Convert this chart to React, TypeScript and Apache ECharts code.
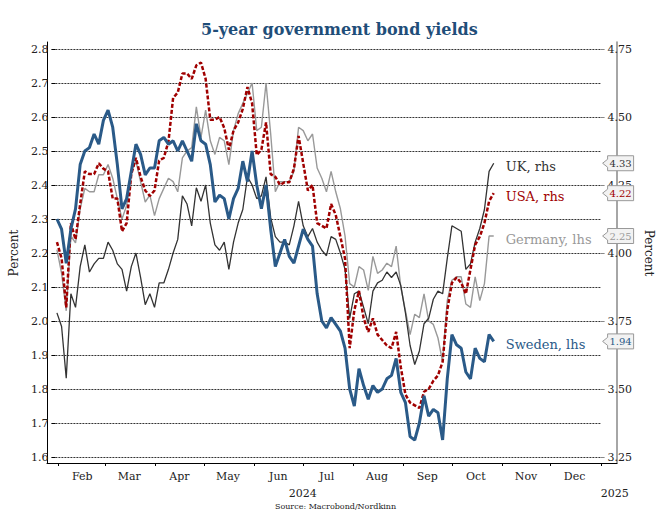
import React, { useEffect, useRef } from "react";
import * as echarts from "echarts";

const dates = [
  "2024-01-26", "2024-01-29", "2024-02-01", "2024-02-04", "2024-02-07", "2024-02-10", "2024-02-13", "2024-02-16", "2024-02-19", "2024-02-22", "2024-02-25", "2024-02-28",
  "2024-03-02", "2024-03-05", "2024-03-08", "2024-03-11", "2024-03-14", "2024-03-17", "2024-03-20", "2024-03-23", "2024-03-26", "2024-03-29",
  "2024-04-01", "2024-04-04", "2024-04-07", "2024-04-10", "2024-04-13", "2024-04-16", "2024-04-19", "2024-04-22", "2024-04-25", "2024-04-28",
  "2024-05-01", "2024-05-04", "2024-05-07", "2024-05-10", "2024-05-13", "2024-05-16", "2024-05-19", "2024-05-22", "2024-05-25", "2024-05-28", "2024-05-31",
  "2024-06-03", "2024-06-06", "2024-06-09", "2024-06-12", "2024-06-15", "2024-06-18", "2024-06-21", "2024-06-24", "2024-06-27", "2024-06-30",
  "2024-07-03", "2024-07-06", "2024-07-09", "2024-07-12", "2024-07-15", "2024-07-18", "2024-07-21", "2024-07-24", "2024-07-27", "2024-07-30",
  "2024-08-02", "2024-08-05", "2024-08-08", "2024-08-11", "2024-08-14", "2024-08-17", "2024-08-20", "2024-08-23", "2024-08-26", "2024-08-29",
  "2024-09-01", "2024-09-04", "2024-09-07", "2024-09-10", "2024-09-13", "2024-09-16", "2024-09-19", "2024-09-22", "2024-09-25", "2024-09-28",
  "2024-10-01", "2024-10-04", "2024-10-07", "2024-10-10", "2024-10-13", "2024-10-16", "2024-10-19", "2024-10-22", "2024-10-25", "2024-10-28", "2024-10-31",
  "2024-11-03",
];

// left-hand scale (percent)
const sweden = [
  2.30, 2.27, 2.17, 2.27, 2.33, 2.46, 2.50, 2.51, 2.55, 2.52, 2.59, 2.62, 2.57, 2.46, 2.33, 2.36, 2.44, 2.52, 2.49, 2.43, 2.45, 2.45, 2.53, 2.54, 2.52,
  2.53, 2.50, 2.53, 2.50, 2.47, 2.58, 2.53, 2.52, 2.46, 2.35, 2.37, 2.36, 2.30, 2.36, 2.39, 2.47, 2.41, 2.50, 2.40, 2.33, 2.40, 2.27, 2.16,
  2.20, 2.24, 2.19, 2.17, 2.22, 2.27, 2.24, 2.22, 2.08, 2.00, 1.98, 2.01, 1.99, 1.97, 1.92, 1.80, 1.75, 1.86, 1.81, 1.77, 1.81, 1.79, 1.80, 1.83,
  1.84, 1.89, 1.79, 1.76, 1.66, 1.65, 1.70, 1.78, 1.72, 1.74, 1.73, 1.65, 1.83, 1.96, 1.93, 1.92, 1.85, 1.83, 1.92, 1.89, 1.88, 1.96, 1.94,
];
const germany = [
  2.21, 2.14, 2.03, 2.25, 2.23, 2.33, 2.39, 2.38, 2.38, 2.43, 2.43, 2.46, 2.42, 2.36, 2.30, 2.34, 2.44, 2.47, 2.41, 2.35, 2.37, 2.31, 2.36, 2.39, 2.42,
  2.41, 2.38, 2.48, 2.50, 2.51, 2.63, 2.54, 2.62, 2.53, 2.49, 2.54, 2.53, 2.46, 2.56, 2.61, 2.64, 2.67, 2.70, 2.56, 2.57, 2.70, 2.55, 2.38,
  2.41, 2.41, 2.41, 2.44, 2.57, 2.56, 2.53, 2.55, 2.45, 2.42, 2.38, 2.44, 2.38, 2.33, 2.25, 2.11, 2.10, 2.16, 2.15, 2.09, 2.19, 2.14, 2.15, 2.17,
  2.16, 2.22, 2.10, 2.03, 1.96, 2.02, 2.01, 2.08, 2.00, 1.99, 1.95, 1.88, 2.06, 2.12, 2.13, 2.13, 2.05, 2.04, 2.13, 2.06, 2.11, 2.25, 2.25,
];
// right-hand scale (percent)
const uk = [
  3.78, 3.73, 3.54, 3.85, 3.80, 3.95, 4.03, 3.93, 3.96, 3.98, 3.98, 4.04, 4.01, 3.96, 3.94, 3.86, 3.95, 4.00, 3.91, 3.81, 3.85, 3.80, 3.89, 3.89, 3.94,
  4.00, 4.05, 4.21, 4.18, 4.10, 4.24, 4.19, 4.25, 4.11, 4.03, 4.01, 4.04, 3.94, 4.04, 4.11, 4.16, 4.28, 4.25, 4.20, 4.21, 4.28, 4.13, 4.06,
  4.04, 4.04, 4.03, 4.10, 4.19, 4.10, 4.06, 4.09, 4.04, 4.01, 3.99, 4.06, 4.05, 4.00, 3.94, 3.76, 3.85, 3.86, 3.80, 3.74, 3.86, 3.89, 3.90, 3.93,
  3.91, 3.93, 3.88, 3.78, 3.66, 3.59, 3.64, 3.74, 3.76, 3.83, 3.86, 3.85, 3.98, 4.10, 4.09, 4.08, 3.94, 3.96, 4.04, 4.09, 4.16, 4.30, 4.33,
];
const usa = [
  4.04, 3.98, 3.80, 4.11, 4.05, 4.18, 4.30, 4.29, 4.29, 4.33, 4.31, 4.30, 4.20, 4.20, 4.08, 4.11, 4.29, 4.35, 4.28, 4.23, 4.21, 4.23, 4.34, 4.35, 4.41,
  4.57, 4.59, 4.66, 4.66, 4.64, 4.69, 4.70, 4.64, 4.49, 4.49, 4.50, 4.46, 4.38, 4.45, 4.48, 4.53, 4.61, 4.55, 4.36, 4.38, 4.48, 4.29, 4.28,
  4.25, 4.26, 4.26, 4.31, 4.43, 4.33, 4.23, 4.25, 4.11, 4.10, 4.09, 4.18, 4.14, 4.06, 3.98, 3.65, 3.79, 3.86, 3.76, 3.71, 3.76, 3.70, 3.68, 3.66,
  3.65, 3.71, 3.58, 3.48, 3.45, 3.44, 3.43, 3.49, 3.50, 3.53, 3.55, 3.60, 3.79, 3.89, 3.91, 3.89, 3.85, 3.94, 4.03, 4.06, 4.11, 4.19, 4.22,
];

const monthNames = ["", "Feb", "Mar", "Apr", "May", "Jun", "Jul", "Aug", "Sep", "Oct", "Nov", "Dec"];
const axisStart = "2024-01-25";
const axisEnd = "2025-01-11";
const yearLabels = [
  { text: "2024", at: "2024-07-01", align: "center" },
  { text: "2025", at: "2025-01-01", align: "left" },
];

const FONT = "'DejaVu Serif', Georgia, serif";
const C_SWE = "#2A5A88";
const C_UK = "#333333";
const C_GER = "#999999";
const C_USA = "#A00000";
const DAY = 86400000;

export default function App() {
  const ref = useRef<HTMLDivElement>(null);

  useEffect(() => {
    if (!ref.current) return;
    const chart = echarts.init(ref.current, null, { renderer: "svg" });

    const mk = (name: string, arr: number[], yAxisIndex: number, color: string, lineStyle: any, z: number) => ({
      name,
      type: "line",
      xAxisIndex: 1,
      yAxisIndex,
      data: dates.map((d, i) => [d, arr[i]]),
      showSymbol: false,
      symbol: "none",
      z,
      lineStyle: { color, ...lineStyle },
      itemStyle: { color },
      endLabel: {
        show: true,
        formatter: "{a}",
        color,
        fontFamily: FONT,
        fontSize: 13,
        distance: 12,
        offset: [0, 3],
      },
    });

    const xBase = {
      type: "time",
      min: axisStart,
      max: axisEnd,
      minInterval: 28 * DAY,
      maxInterval: 31 * DAY,
    };

    chart.setOption({
      animation: false,
      title: {
        text: "5-year government bond yields",
        left: 196,
        top: 16,
        textStyle: { fontFamily: FONT, fontSize: 16, fontWeight: "bold", color: "#1F4E79" },
      },
      grid: [
        { left: 47, right: 46, top: 42, bottom: 48 },
        { left: 47, right: 46, top: 49, bottom: 54 },
      ],
      xAxis: [
        {
          ...xBase,
          gridIndex: 0,
          axisLine: { show: true, lineStyle: { color: "#000", width: 1 } },
          axisTick: { show: true, length: 3, lineStyle: { color: "#000" } },
          splitLine: { show: false },
          axisLabel: {
            formatter: (v: number) => monthNames[new Date(v).getMonth()],
            fontFamily: FONT,
            fontSize: 11,
            color: "#222",
            margin: 8,
            padding: [0, 0, 0, 48],
          },
        },
        {
          ...xBase,
          gridIndex: 1,
          axisLine: { show: false },
          axisTick: { show: false },
          axisLabel: { show: false },
          splitLine: { show: false },
        },
      ],
      yAxis: [
        {
          type: "value", gridIndex: 0, min: 0, max: 1,
          axisLine: { show: true, lineStyle: { color: "#000", width: 1 } },
          axisTick: { show: false }, axisLabel: { show: false }, splitLine: { show: false },
        },
        {
          type: "value", gridIndex: 0, min: 0, max: 1, position: "right",
          axisLine: { show: true, lineStyle: { color: "#888", width: 1.5 } },
          axisTick: { show: false }, axisLabel: { show: false }, splitLine: { show: false },
        },
        {
          type: "value", gridIndex: 1, min: 1.6, max: 2.8, interval: 0.1,
          axisLine: { show: false },
          axisTick: { show: true, length: 4, lineStyle: { color: "#000" } },
          axisLabel: {
            formatter: (v: number) => v.toFixed(1),
            fontFamily: FONT, fontSize: 11, color: "#222", margin: 7,
          },
          splitLine: { show: true, lineStyle: { type: [2, 1], color: "#333", width: 1 } },
          name: "Percent",
          nameLocation: "middle",
          nameGap: 29,
          nameTextStyle: { fontFamily: FONT, fontSize: 12, color: "#222" },
        },
        {
          type: "value", gridIndex: 1, min: 3.25, max: 4.75, interval: 0.25, position: "right",
          axisLine: { show: false },
          axisTick: { show: true, length: 4, lineStyle: { color: "#888" } },
          axisLabel: {
            formatter: (v: number) => v.toFixed(2),
            fontFamily: FONT, fontSize: 11, color: "#222", margin: 7,
          },
          splitLine: { show: false },
          name: "Percent",
          nameLocation: "middle",
          nameRotate: -90,
          nameGap: 41,
          nameTextStyle: { fontFamily: FONT, fontSize: 12, color: "#222" },
        },
      ],
      series: [
        mk("Germany, lhs", germany, 2, C_GER, { width: 1.4 }, 2),
        mk("UK, rhs", uk, 3, C_UK, { width: 1.3 }, 3),
        mk("USA, rhs", usa, 3, C_USA, { width: 2.5, type: [4, 2] }, 4),
        mk("Sweden, lhs", sweden, 2, C_SWE, { width: 3 }, 5),
      ],
    });

    const last = dates.length - 1;
    const xR = chart.convertToPixel({ xAxisIndex: 1 }, axisEnd) as number;
    const yBase = chart.getHeight() - 48;
    const tags = [
      { v: uk[last], axis: 3, color: C_UK },
      { v: usa[last], axis: 3, color: C_USA },
      { v: germany[last], axis: 2, color: C_GER },
      { v: sweden[last], axis: 2, color: C_SWE },
    ];
    const elements: any[] = [];
    tags.forEach((t) => {
      const y = chart.convertToPixel({ yAxisIndex: t.axis }, t.v) as number;
      const x0 = xR + 2;
      const bx = xR + 7;
      const bw = 26;
      const h = 7.5;
      elements.push({
        type: "polygon",
        z: 100,
        shape: {
          points: [
            [x0, y], [bx, y - 4], [bx, y - h], [bx + bw, y - h],
            [bx + bw, y + h], [bx, y + h], [bx, y + 4],
          ],
        },
        style: { fill: "#f2f2f2", stroke: "#999", lineWidth: 1 },
      });
      elements.push({
        type: "text",
        z: 101,
        style: {
          text: t.v.toFixed(2),
          x: bx + bw / 2,
          y: y + 0.5,
          fill: t.color,
          font: `10px ${FONT}`,
          textAlign: "center",
          textVerticalAlign: "middle",
          align: "center",
          verticalAlign: "middle",
        },
      });
    });
    yearLabels.forEach((yl) => {
      const x = chart.convertToPixel({ xAxisIndex: 0 }, yl.at) as number;
      elements.push({
        type: "text",
        style: {
          text: yl.text,
          x,
          y: yBase + 30,
          fill: "#222",
          font: `11px ${FONT}`,
          textAlign: yl.align,
          textVerticalAlign: "middle",
          align: yl.align,
          verticalAlign: "middle",
        },
      });
    });
    elements.push({
      type: "text",
      style: {
        text: "Source: Macrobond/Nordkinn",
        x: chart.getWidth() / 2 + 4,
        y: chart.getHeight() - 5,
        fill: "#222",
        font: `8px ${FONT}`,
        textAlign: "center",
        textVerticalAlign: "middle",
        align: "center",
        verticalAlign: "middle",
      },
    });
    chart.setOption({ graphic: { elements } });

    return () => chart.dispose();
  }, []);

  return (
    <div
      ref={ref}
      style={{ position: "absolute", left: 0, top: 0, width: 663, height: 511 }}
    />
  );
}
